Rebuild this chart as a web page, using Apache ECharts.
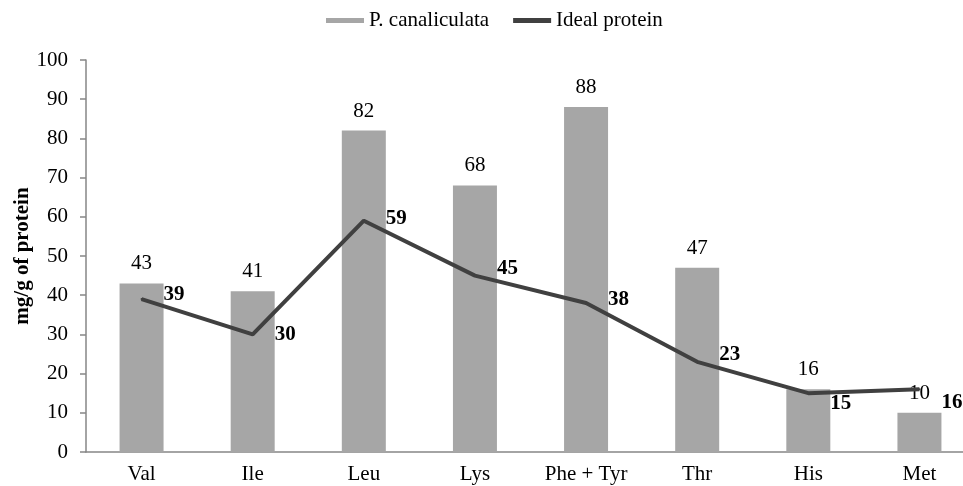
<!DOCTYPE html>
<html>
<head>
<meta charset="utf-8">
<script src="https://cdn.jsdelivr.net/npm/echarts@6/dist/echarts.min.js"></script>
<style>html,body{margin:0;padding:0;background:#fff;overflow:hidden;width:963px;height:486px;}#c{width:975px;height:486px;}</style>
</head>
<body>
<div id="c"></div>
<script>
const categories = ['Val', 'Ile', 'Leu', 'Lys', 'Phe + Tyr', 'Thr', 'His', 'Met'];
const snailValues = [43, 41, 82, 68, 88, 47, 16, 10];
const idealValues = [39, 30, 59, 45, 38, 23, 15, 16];
const yTicks = [0, 10, 20, 30, 40, 50, 60, 70, 80, 90, 100];
const seriesNames = ['P. canaliculata', 'Ideal protein'];

const FONT = '"Liberation Serif", "Times New Roman", serif';
// label vertical nudges for the line labels (styling only)
const lineLabelDy = [-5, 0, -2, -7, -3, -7, 10, 13];

const chart = echarts.init(document.getElementById('c'));
chart.setOption({
  animation: false,
  backgroundColor: '#fff',
  legend: {
    top: 5,
    left: 321,
    itemWidth: 38,
    itemHeight: 5,
    itemGap: 24,
    itemTextGap: 6,
    textStyle: { fontFamily: FONT, fontSize: 21, color: '#000' },
    data: [
      { name: seriesNames[0], icon: 'rect' },
      { name: seriesNames[1], icon: 'rect' }
    ]
  },
  grid: { left: 86, right: 0, top: 60, bottom: 34, containLabel: false, outerBoundsMode: 'none' },
  xAxis: {
    type: 'category',
    data: categories,
    axisLine: { lineStyle: { color: '#868686', width: 1.5 } },
    axisTick: { show: false },
    axisLabel: { fontFamily: FONT, fontSize: 21, color: '#000', margin: 12 }
  },
  yAxis: {
    type: 'value',
    min: yTicks[0],
    max: yTicks[yTicks.length - 1],
    interval: yTicks[1] - yTicks[0],
    name: 'mg/g of protein',
    nameLocation: 'middle',
    nameGap: 53,
    nameMoveOverlap: false,
    nameTextStyle: { fontFamily: FONT, fontSize: 21, fontWeight: 'bold', color: '#000' },
    axisLine: { show: true, lineStyle: { color: '#868686', width: 1.5 } },
    axisTick: { show: true, length: 6, lineStyle: { color: '#868686', width: 1.5 } },
    splitLine: { show: false },
    axisLabel: { fontFamily: FONT, fontSize: 21, color: '#000', margin: 18 }
  },
  series: [
    {
      name: seriesNames[0],
      type: 'bar',
      data: snailValues,
      barWidth: 44,
      itemStyle: { color: '#a6a6a6' },
      label: {
        show: true, position: 'top', distance: 9,
        fontFamily: FONT, fontSize: 21, color: '#000'
      },
      z: 2
    },
    {
      name: seriesNames[1],
      type: 'line',
      data: idealValues,
      symbol: 'circle',
      symbolSize: 2,
      showSymbol: true,
      lineStyle: { color: '#404040', width: 4 },
      itemStyle: { color: '#404040' },
      label: {
        show: true, position: 'right', distance: 21,
        fontFamily: FONT, fontSize: 21, fontWeight: 'bold', color: '#000'
      },
      labelLayout: function (params) {
        return { dy: lineLabelDy[params.dataIndex] || 0, hideOverlap: false };
      },
      z: 3
    }
  ]
});
</script>
</body>
</html>
